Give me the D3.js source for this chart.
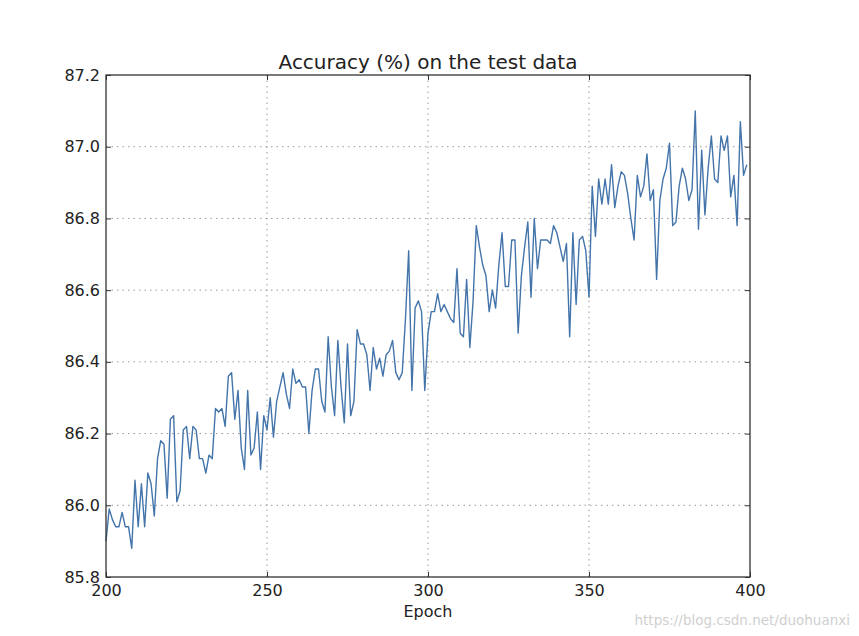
<!DOCTYPE html>
<html>
  <head>
    <meta charset="utf-8">
    <script type="text/javascript" src="https://cdn.jsdelivr.net/npm/d3@7/dist/d3.min.js"></script>
    <title>Accuracy on the test data</title>
    <style>
      body { margin: 0; background: #fff; }
      text { font-family: "DejaVu Sans", sans-serif; fill: #222; }
    </style>
  </head>
  <body>
    <div id="chart"></div>
    <script type="text/javascript">
    // epochs 200..399
    var startEpoch = 200;
    var accuracy = [
      85.90, 85.99, 85.96, 85.94, 85.94, 85.98, 85.94, 85.94, 85.88, 86.07,
      85.94, 86.06, 85.94, 86.09, 86.06, 85.97, 86.13, 86.18, 86.17, 86.02,
      86.24, 86.25, 86.01, 86.04, 86.21, 86.22, 86.13, 86.22, 86.21, 86.13,
      86.13, 86.09, 86.14, 86.13, 86.27, 86.26, 86.27, 86.22, 86.36, 86.37,
      86.24, 86.32, 86.16, 86.10, 86.32, 86.14, 86.16, 86.26, 86.10, 86.25,
      86.21, 86.30, 86.19, 86.29, 86.33, 86.37, 86.31, 86.27, 86.38, 86.34,
      86.35, 86.33, 86.33, 86.20, 86.32, 86.38, 86.38, 86.29, 86.26, 86.47,
      86.33, 86.25, 86.46, 86.33, 86.23, 86.45, 86.25, 86.29, 86.49, 86.45,
      86.45, 86.42, 86.32, 86.44, 86.38, 86.41, 86.36, 86.42, 86.43, 86.46,
      86.37, 86.35, 86.37, 86.52, 86.71, 86.32, 86.55, 86.57, 86.54, 86.32,
      86.48, 86.54, 86.54, 86.59, 86.54, 86.56, 86.54, 86.52, 86.51, 86.66,
      86.48, 86.47, 86.63, 86.44, 86.57, 86.78, 86.72, 86.67, 86.64, 86.54,
      86.60, 86.55, 86.67, 86.76, 86.61, 86.61, 86.74, 86.74, 86.48, 86.64,
      86.72, 86.79, 86.58, 86.80, 86.66, 86.74, 86.74, 86.74, 86.73, 86.78,
      86.76, 86.72, 86.68, 86.73, 86.47, 86.76, 86.56, 86.74, 86.75, 86.71,
      86.58, 86.89, 86.75, 86.91, 86.84, 86.91, 86.84, 86.95, 86.83, 86.89,
      86.93, 86.92, 86.87, 86.80, 86.74, 86.92, 86.86, 86.89, 86.98, 86.85,
      86.88, 86.63, 86.85, 86.91, 86.94, 87.01, 86.78, 86.79, 86.89, 86.94,
      86.91, 86.85, 86.88, 87.10, 86.77, 86.99, 86.81, 86.94, 87.03, 86.91,
      86.90, 87.03, 86.99, 87.03, 86.86, 86.92, 86.78, 87.07, 86.92, 86.95
    ];
    var xTicks = [200, 250, 300, 350, 400];
    var yTicks = [85.8, 86.0, 86.2, 86.4, 86.6, 86.8, 87.0, 87.2];

    var data = accuracy.map(function(v, i) { return {epoch: startEpoch + i, acc: v}; });

    var W = 859, H = 636;
    var margin = {left: 106, right: 109, top: 75, bottom: 59};

    var svg = d3.select("#chart").append("svg")
        .attr("width", W)
        .attr("height", H);

    var x = d3.scaleLinear().domain([200, 400]).range([margin.left, W - margin.right]);
    var y = d3.scaleLinear().domain([85.8, 87.2]).range([H - margin.bottom, margin.top]);

    // grid
    svg.append("g").selectAll("line")
      .data(xTicks.slice(1, -1)).enter().append("line")
        .attr("x1", function(d) { return x(d); })
        .attr("x2", function(d) { return x(d); })
        .attr("y1", y(85.8)).attr("y2", y(87.2))
        .attr("stroke", "#999").attr("stroke-width", 1)
        .attr("stroke-dasharray", "1.5,4");
    svg.append("g").selectAll("line")
      .data(yTicks.slice(1, -1)).enter().append("line")
        .attr("y1", function(d) { return y(d); })
        .attr("y2", function(d) { return y(d); })
        .attr("x1", x(200)).attr("x2", x(400))
        .attr("stroke", "#999").attr("stroke-width", 1)
        .attr("stroke-dasharray", "1.5,4");

    // line
    var line = d3.line()
        .x(function(d) { return x(d.epoch); })
        .y(function(d) { return y(d.acc); });

    svg.append("path")
        .datum(data)
        .attr("d", line)
        .attr("fill", "none")
        .attr("stroke", "#4374aa")
        .attr("stroke-width", 1.4)
        .attr("stroke-linejoin", "round");

    // axes, ticks pointing inward on every side
    var fmtY = d3.format(".1f");
    var axBottom = svg.append("g")
        .attr("transform", "translate(0," + y(85.8) + ")")
        .call(d3.axisBottom(x).tickValues(xTicks).tickSize(-5).tickPadding(8));
    var axTop = svg.append("g")
        .attr("transform", "translate(0," + y(87.2) + ")")
        .call(d3.axisTop(x).tickValues(xTicks).tickSize(-5).tickFormat(""));
    var axLeft = svg.append("g")
        .attr("transform", "translate(" + x(200) + ",0)")
        .call(d3.axisLeft(y).tickValues(yTicks).tickSize(-5).tickPadding(6).tickFormat(fmtY));
    var axRight = svg.append("g")
        .attr("transform", "translate(" + x(400) + ",0)")
        .call(d3.axisRight(y).tickValues(yTicks).tickSize(-5).tickFormat(""));

    [axBottom, axTop, axLeft, axRight].forEach(function(g) {
      g.select(".domain").remove();
      g.selectAll(".tick line").attr("stroke", "#333");
      g.selectAll(".tick text").attr("font-size", 16).attr("font-family", "DejaVu Sans").attr("fill", "#222");
    });

    // frame
    svg.append("rect")
        .attr("x", x(200)).attr("y", y(87.2))
        .attr("width", x(400) - x(200)).attr("height", y(85.8) - y(87.2))
        .attr("fill", "none").attr("stroke", "#333").attr("stroke-width", 1.3);

    svg.append("text")
        .attr("x", (x(200) + x(400)) / 2).attr("y", 69)
        .attr("text-anchor", "middle").attr("font-size", 20)
        .text("Accuracy (%) on the test data");

    svg.append("text")
        .attr("x", (x(200) + x(400)) / 2).attr("y", 617)
        .attr("text-anchor", "middle").attr("font-size", 16)
        .text("Epoch");

    svg.append("text")
        .attr("x", 850).attr("y", 625)
        .attr("text-anchor", "end").attr("font-size", 13.5)
        .attr("font-family", "Liberation Sans, Arial, sans-serif")
        .style("fill", "#d0d0d0")
        .text("https://blog.csdn.net/duohuanxi");
    </script>
  </body>
</html>
